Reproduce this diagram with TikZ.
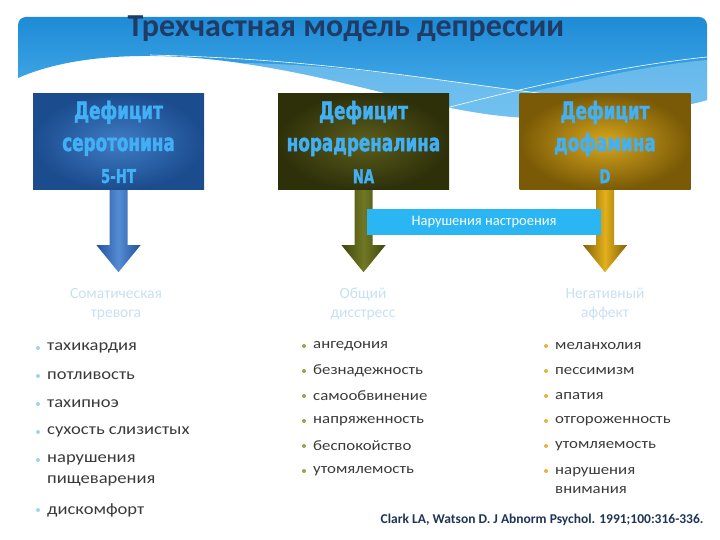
\documentclass[tikz,border=0pt]{standalone}
\usepackage{fontspec}
\setmainfont{Carlito}
\newfontfamily\boxfont[FakeStretch=0.7, FakeBold=1.5]{DejaVu Sans}
\newfontfamily\itemfont[FakeStretch=1.16]{Carlito}
\usepackage{tikz}
\usetikzlibrary{calc, positioning}
\definecolor{titleblue}{HTML}{1F3B66}
\definecolor{bandtop}{HTML}{1E8BD6}
\definecolor{bandlow}{HTML}{4FB3EE}
\definecolor{bandpale}{HTML}{8ACCF2}
\definecolor{boxtext}{HTML}{42B0F4}
\definecolor{moodblue}{HTML}{29B6F2}
\definecolor{palehead}{HTML}{C6E0F4}
\definecolor{itemgray}{HTML}{3A3A3A}
\definecolor{dotblue}{HTML}{9AD6F2}
\definecolor{dotgreen}{HTML}{8FA84E}
\definecolor{dotgold}{HTML}{E6B436}
\definecolor{citeblue}{HTML}{1F3557}
\definecolor{seroin}{RGB}{64,124,196}
\definecolor{seroout}{RGB}{27,76,142}
\definecolor{norain}{RGB}{92,94,28}
\definecolor{noraout}{RGB}{46,48,10}
\definecolor{dopain}{RGB}{214,166,30}
\definecolor{dopaout}{RGB}{122,90,6}
\definecolor{seroedge}{RGB}{34,82,160}
\definecolor{seromid}{RGB}{84,140,210}
\definecolor{noraedge}{RGB}{64,70,14}
\definecolor{noramid}{RGB}{112,120,36}
\definecolor{dopaedge}{RGB}{130,98,8}
\definecolor{dopamid}{RGB}{226,176,28}

\begin{document}
\begin{tikzpicture}[x=1pt, y=-1pt,
  defbox/.style={minimum width=171, minimum height=96, inner sep=0pt, align=center,
    text=boxtext, font=\boxfont\bfseries\fontsize{24}{32}\selectfont},
  colhead/.style={align=center, text=palehead, font=\fontsize{15.5}{19}\selectfont},
  item/.style={anchor=west, align=left, inner sep=0pt, text=itemgray},
  bigitem/.style={item, font=\itemfont\fontsize{16}{21}\selectfont},
  smallitem/.style={item, font=\itemfont\fontsize{14.5}{19}\selectfont}]
\useasboundingbox (0,0) rectangle (720,540);
% Header band
\shade[top color=bandtop, bottom color=bandlow]
  (18,78) [rounded corners=8] -- (18,17) -- (707,17) [sharp corners] -- (707,100)
  .. controls (680,108) and (620,118) .. (540,118)
  .. controls (450,118) and (360,80) .. (240,63)
  .. controls (150,50) and (70,55) .. (18,78) -- cycle;
\fill[bandpale, opacity=0.6] (240,63) .. controls (360,80) and (450,118) .. (540,118)
  .. controls (620,118) and (680,108) .. (707,100) -- (707,60)
  .. controls (640,66) and (580,82) .. (530,92)
  .. controls (430,78) and (330,64) .. (240,63) -- cycle;
\draw[white, line width=0.6] (150,55) .. controls (350,60) and (450,85) .. (600,100);
\draw[white, line width=0.6] (420,115) .. controls (520,88) and (620,66) .. (707,57);
\node[text=titleblue, font=\bfseries\fontsize{32}{34}\selectfont] (title) at (346,29) {Трехчастная модель депрессии};

% Deficit boxes
\node[defbox, shading=radial, inner color=seroin, outer color=seroout] (sero) at (118.5,142) {Дефицит\\серотонина\\{\fontsize{19}{20}\selectfont 5-HT}};
\node[defbox, shading=radial, inner color=norain, outer color=noraout] (nora) at (363.5,142) {Дефицит\\норадреналина\\{\fontsize{19}{20}\selectfont NA}};
\node[defbox, shading=radial, inner color=dopain, outer color=dopaout] (dopa) at (605,142) {Дефицит\\дофамина\\{\fontsize{19}{20}\selectfont D}};

% Block arrows
\foreach \b in {sero, nora, dopa} {
  \shade[left color=\b edge, right color=\b edge, middle color=\b mid]
    ($(\b.south)+(-9,0)$) -- ($(\b.south)+(9,0)$) -- ($(\b.south)+(9,55)$) -- ($(\b.south)+(22,55)$)
    -- ($(\b.south)+(0,82)$) -- ($(\b.south)+(-22,55)$) -- ($(\b.south)+(-9,55)$) -- cycle;
}
\node[fill=moodblue, text=white, minimum width=234, minimum height=26, inner sep=0pt,
  font=\fontsize{14.5}{16}\selectfont] (mood) at (484,222) {Нарушения настроения};

% Column heads
\node[colhead] (somat) at (116,304) {Соматическая\\тревога};
\node[colhead] (distr) at (363,304) {Общий\\дисстресс};
\node[colhead] (negaf) at (605,304) {Негативный\\аффект};

% Symptom lists
\foreach \y/\t [count=\i] in {348/тахикардия, 376/потливость, 404/тахипноэ, 432/сухость слизистых,
                              470.5/{нарушения\\пищеварения}, 510/дискомфорт}
  \node[bigitem] (soma\i) at (47,\y) {\t};
\foreach \y in {348,376,404,432,460,510}
  \fill[dotblue] (38,\y) circle (2);
\foreach \y/\t [count=\i] in {346/ангедония, 371/безнадежность, 396/самообвинение,
                              421/напряженность, 446/беспокойство, 471/утомялемость}
  \node[smallitem] (dist\i) at (313,\y) {\t};
\foreach \y in {346,371,396,421,446,471}
  \fill[dotgreen] (304,\y) circle (2);
\foreach \y/\t [count=\i] in {346/меланхолия, 371/пессимизм, 396/апатия, 421/отгороженность,
                              446/утомляемость, 480.5/{нарушения\\внимания}}
  \node[smallitem] (nega\i) at (555,\y) {\t};
\foreach \y in {346,371,396,421,446,471}
  \fill[dotgold] (546,\y) circle (2);

% Reference
\node[text=citeblue, font=\bfseries\fontsize{13.5}{16}\selectfont, anchor=east] (cite) at (707,520)
  {Clark LA, Watson D. J Abnorm Psychol. 1991;100:316-336.};
\end{tikzpicture}
\end{document}
